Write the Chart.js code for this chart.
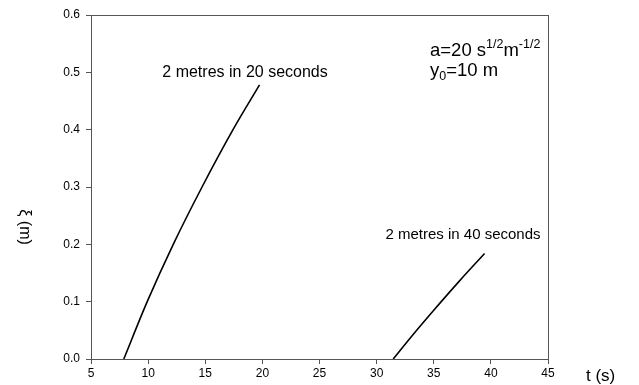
<!DOCTYPE html>
<html>
<head>
<meta charset="utf-8">
<script src="https://cdn.jsdelivr.net/npm/chart.js@4/dist/chart.umd.min.js"></script>
<style>
  html, body { margin: 0; padding: 0; background: #fff; }
  #wrap { width: 639px; height: 385px; }
</style>
</head>
<body>
<div id="wrap"><canvas id="chart" width="639" height="385"></canvas></div>
<script>
const ctx = document.getElementById('chart').getContext('2d');

// t (s) vs xi (m)
const t20 = [7.87, 9.92, 12.20, 14.72, 17.43, 19.75];
const xi20 = [0.0, 0.1, 0.2, 0.3, 0.4, 0.478];
const t40 = [31.45, 33.0, 35.0, 37.2, 39.45];
const xi40 = [0.0, 0.038, 0.085, 0.135, 0.184];

const xTicks = [5, 10, 15, 20, 25, 30, 35, 40, 45];
const yTicks = [0.0, 0.1, 0.2, 0.3, 0.4, 0.5, 0.6];

const FONT = 'Arial, "Liberation Sans", sans-serif';

const toPoints = (xs, ys) => xs.map((x, i) => ({ x, y: ys[i] }));

// draws a run of [text, size, dy] pieces from (x, y)
function drawRun(ctx, x, y, pieces) {
  pieces.forEach(([s, size, dy]) => {
    ctx.font = size + 'px ' + FONT;
    ctx.fillText(s, x, y + dy);
    x += ctx.measureText(s).width;
  });
}

const decorPlugin = {
  id: 'decor',
  afterDraw(chart) {
    const { ctx, chartArea: a, scales } = chart;
    const xs = scales.x, ys = scales.y;
    ctx.save();
    // frame
    ctx.strokeStyle = '#555';
    ctx.lineWidth = 1;
    ctx.strokeRect(a.left + 0.5, a.top + 0.5, a.right - a.left, a.bottom - a.top);

    ctx.fillStyle = '#000';
    // axis titles
    ctx.font = '17px ' + FONT;
    ctx.textBaseline = 'middle';
    ctx.textAlign = 'left';
    ctx.fillText('t (s)', 586, xs.bottom - 9);

    ctx.save();
    ctx.translate(24, 227);
    ctx.rotate(Math.PI / 2);
    ctx.textAlign = 'center';
    ctx.font = '16px ' + FONT;
    ctx.fillText('\u03BE (m)', 0, 0);
    ctx.restore();

    // curve labels
    ctx.textAlign = 'center';
    ctx.font = '16px ' + FONT;
    ctx.fillText('2 metres in 20 seconds', xs.getPixelForValue(18.48), ys.getPixelForValue(0.5) + 0.5);
    ctx.font = '15px ' + FONT;
    ctx.fillText('2 metres in 40 seconds', xs.getPixelForValue(37.56), ys.getPixelForValue(0.216));

    // parameters
    ctx.textAlign = 'left';
    ctx.textBaseline = 'alphabetic';
    drawRun(ctx, 430, 56, [['a=20 s', 18.5, 0], ['1/2', 12.5, -8], ['m', 18.5, 0], ['-1/2', 12.5, -8]]);
    drawRun(ctx, 430, 76, [['y', 18.5, 0], ['0', 12.5, 4], ['=10 m', 18.5, 0]]);
    ctx.restore();
  }
};

new Chart(ctx, {
  type: 'scatter',
  data: {
    datasets: [
      { data: toPoints(t20, xi20), showLine: true, borderColor: '#000', borderWidth: 1.6, pointRadius: 0, cubicInterpolationMode: 'monotone' },
      { data: toPoints(t40, xi40), showLine: true, borderColor: '#000', borderWidth: 1.6, pointRadius: 0, cubicInterpolationMode: 'monotone' }
    ]
  },
  options: {
    responsive: false,
    animation: false,
    events: [],
    layout: { padding: { left: 0, top: 15, right: 91, bottom: 0 } },
    plugins: { legend: { display: false }, tooltip: { enabled: false } },
    scales: {
      x: {
        type: 'linear',
        min: xTicks[0],
        max: xTicks[xTicks.length - 1],
        afterBuildTicks: s => { s.ticks = xTicks.map(v => ({ value: v })); },
        afterFit: s => { s.height = 26; },
        grid: { drawOnChartArea: false, drawTicks: true, tickLength: 5, color: '#555' },
        border: { color: '#555' },
        ticks: { color: '#000', font: { family: FONT, size: 12 }, padding: 2, maxRotation: 0 }
      },
      y: {
        min: yTicks[0],
        max: yTicks[yTicks.length - 1],
        afterBuildTicks: s => { s.ticks = yTicks.map(v => ({ value: v })); },
        afterFit: s => { s.width = 91; },
        grid: { drawOnChartArea: false, drawTicks: true, tickLength: 5, color: '#555' },
        border: { color: '#555' },
        ticks: { color: '#000', font: { family: FONT, size: 12 }, padding: 6, callback: v => v.toFixed(1) }
      }
    }
  },
  plugins: [decorPlugin]
});
</script>
</body>
</html>
